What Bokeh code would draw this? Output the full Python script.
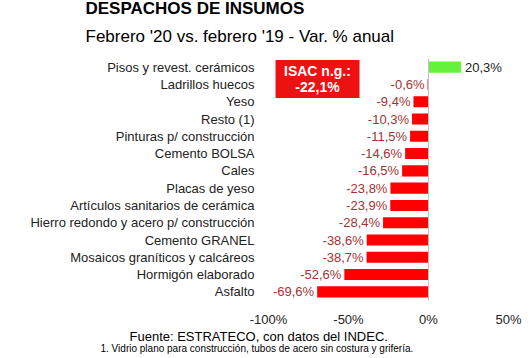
from bokeh.plotting import figure
from bokeh.models import FactorRange, Range1d, Span, Label, BoxAnnotation, FixedTicker, ColumnDataSource, Title
from bokeh.core.properties import value
from bokeh.embed import file_html
from bokeh.resources import INLINE

categories = ["Pisos y revest. cerámicos", "Ladrillos huecos", "Yeso", "Resto (1)",
              "Pinturas p/ construcción", "Cemento BOLSA", "Cales", "Placas de yeso",
              "Artículos sanitarios de cerámica", "Hierro redondo y acero p/ construcción",
              "Cemento GRANEL", "Mosaicos graníticos y calcáreos", "Hormigón elaborado", "Asfalto"]
values = [20.3, -0.6, -9.4, -10.3, -11.5, -14.6, -16.5, -23.8, -23.9, -28.4, -38.6, -38.7, -52.6, -69.6]
value_labels = ["20,3%", "-0,6%", "-9,4%", "-10,3%", "-11,5%", "-14,6%", "-16,5%", "-23,8%",
                "-23,9%", "-28,4%", "-38,6%", "-38,7%", "-52,6%", "-69,6%"]
x_ticks = [-100, -50, 0, 50]
tick_labels = {-100: "-100%", -50: "-50%", 0: "0%", 50: "50%"}
isac_label = ["ISAC n.g.:", "-22,1%"]

FONT = "Liberation Sans"

p = figure(width=530, height=358, output_backend="svg", toolbar_location=None,
           y_range=FactorRange(factors=categories[::-1]), x_range=Range1d(-100, 50),
           min_border_left=268, min_border_right=22, min_border_top=58, min_border_bottom=58)
p.outline_line_color = None
p.grid.visible = False
p.background_fill_color = "white"

colors = ["#66f23c" if v > 0 else "#ff0000" for v in values]
pos = [v > 0 for v in values]
src = ColumnDataSource(dict(cat=categories, val=values, col=colors, lab=value_labels,
                            off=[4 if q else -3 for q in pos],
                            align=["left" if q else "right" for q in pos],
                            tcol=["#222222" if q else "#a33333" for q in pos]))
p.hbar(y="cat", left=0, right="val", height=0.64, fill_color="col", line_color=None, source=src)
p.text(x="val", y="cat", text="lab", x_offset="off", text_align="align", text_baseline="middle",
       text_color="tcol", text_font=value(FONT), text_font_size="13px", source=src)

p.add_layout(Span(location=0, dimension="height", line_color="#c0c0c0", line_width=1))

p.xaxis.ticker = FixedTicker(ticks=x_ticks)
p.xaxis.major_label_overrides = tick_labels
p.xaxis.axis_line_color = None
p.xaxis.major_tick_line_color = None
p.xaxis.minor_tick_line_color = None
p.xaxis.major_label_text_font = FONT
p.xaxis.major_label_text_font_size = "13px"
p.xaxis.major_label_text_color = "#222222"
p.xaxis.major_label_standoff = 5

p.yaxis.axis_line_color = None
p.yaxis.major_tick_line_color = None
p.yaxis.major_label_text_font = FONT
p.yaxis.major_label_text_font_size = "13px"
p.yaxis.major_label_text_color = "#222222"
p.yaxis.major_label_standoff = 8

# ISAC box
p.add_layout(BoxAnnotation(left=-95.6, right=-43.1, top=13.91, bottom=11.71,
                           fill_color="#ee1111", fill_alpha=1, line_color=None))
p.add_layout(Label(x=-69.4, y=13.28, text=isac_label[0], text_align="center", text_baseline="middle",
                   text_color="white", text_font=FONT, text_font_style="bold", text_font_size="14px"))
p.add_layout(Label(x=-69.4, y=12.35, text=isac_label[1], text_align="center", text_baseline="middle",
                   text_color="white", text_font=FONT, text_font_style="bold", text_font_size="14px"))

# titles (outside the frame)
p.add_layout(Title(text="Febrero '20 vs. febrero '19 - Var. % anual", align="left", offset=-183,
                   text_font=FONT, text_font_size="17px", text_font_style="normal",
                   text_color="black", standoff=25), "above")
p.add_layout(Title(text="DESPACHOS DE INSUMOS", align="left", offset=-183,
                   text_font=FONT, text_font_size="17px", text_font_style="bold",
                   text_color="black", standoff=-10), "above")
p.add_layout(Title(text="Fuente: ESTRATECO, con datos del INDEC.", align="left", offset=-139,
                   text_font=FONT, text_font_size="13px", text_font_style="normal",
                   text_color="black", standoff=-6), "below")
p.add_layout(Title(text="1. Vidrio plano para construcción, tubos de acero sin costura y grifería.",
                   align="left", offset=-168,
                   text_font=FONT, text_font_size="10px", text_font_style="normal",
                   text_color="black", standoff=1), "below")

open("out.html", "w").write(file_html(p, INLINE))
